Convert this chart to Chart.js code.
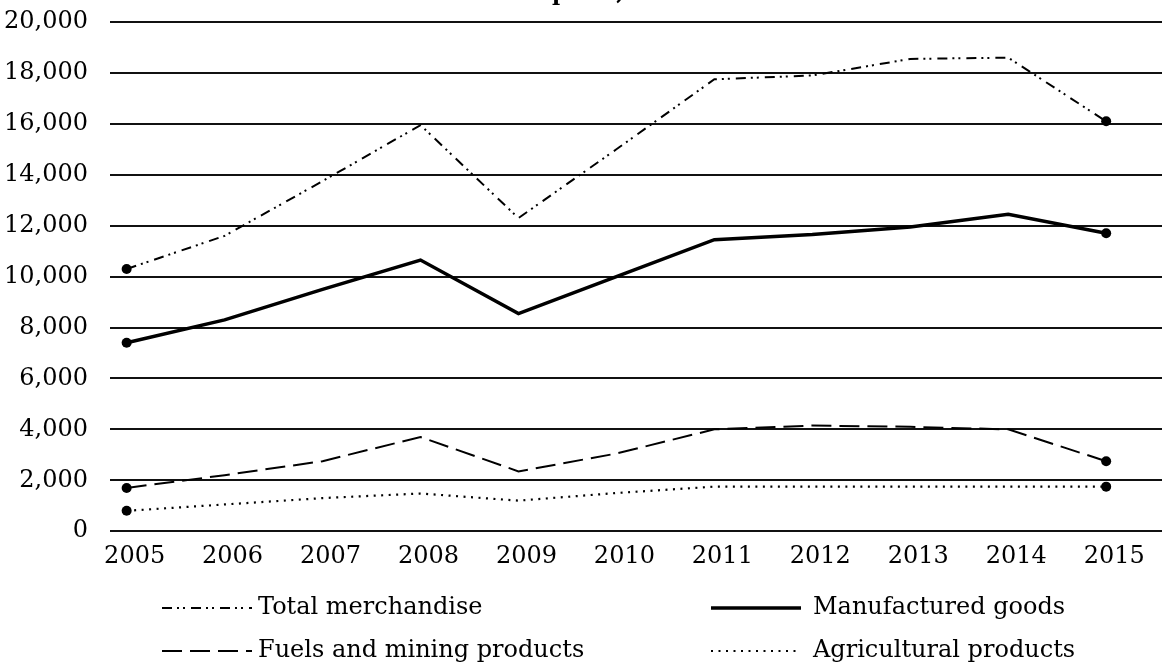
<!DOCTYPE html>
<html>
<head>
<meta charset="utf-8">
<script src="https://cdn.jsdelivr.net/npm/chart.js@4/dist/chart.umd.min.js"></script>
<style>
  html, body { margin: 0; padding: 0; background: #fff; }
  canvas { display: block; }
</style>
</head>
<body>
<canvas id="chart" width="1169" height="670"></canvas>
<script>
// values
const years = [2005, 2006, 2007, 2008, 2009, 2010, 2011, 2012, 2013, 2014, 2015];
const totalMerchandise = [10300, 11600, 13750, 15950, 12300, 15000, 17750, 17900, 18550, 18600, 16100];
const manufacturedGoods = [7400, 8300, 9500, 10650, 8550, 10000, 11450, 11650, 11950, 12450, 11700];
const fuelsAndMining = [1700, 2200, 2750, 3700, 2350, 3050, 4000, 4150, 4100, 4000, 2750];
const agriculturalProducts = [800, 1050, 1300, 1480, 1200, 1500, 1750, 1750, 1750, 1750, 1750];
const seriesNames = ['Total merchandise', 'Manufactured goods', 'Fuels and mining products', 'Agricultural products'];
const titleText = 'World merchandise exports, 2005\u20132015';

const FONT = '"DejaVu Serif", "Liberation Serif", serif';

function toPoints(values) {
    return years.map((yr, i) => ({x: yr, y: values[i]}));
}

// dots only at both ends
function endDots(ctx) {
    return (ctx.dataIndex === 0 || ctx.dataIndex === years.length - 1) ? 5 : 0;
}

function lineSet(label, values, width, dash) {
    return {
        label: label,
        data: toPoints(values),
        borderColor: '#000',
        backgroundColor: '#000',
        borderWidth: width,
        borderDash: dash,
        borderCapStyle: 'butt',
        borderJoinStyle: 'miter',
        fill: false,
        tension: 0,
        pointRadius: endDots,
        pointHoverRadius: endDots,
        pointBorderWidth: 0,
        pointBackgroundColor: '#000'
    };
}

// title is cut off by the top edge (only descenders show), legend drawn under the axis
const titleAndLegend = {
    id: 'titleAndLegend',
    afterDraw(chart) {
        const ctx = chart.ctx;
        ctx.save();
        ctx.fillStyle = '#000';
        ctx.font = 'bold 22px ' + FONT;
        ctx.textAlign = 'left';
        ctx.textBaseline = 'alphabetic';
        const pre = ctx.measureText(titleText.slice(0, titleText.indexOf('p'))).width;
        ctx.fillText(titleText, 552 - pre, 0);

        const slots = [
            {x: 162, y: 608, tx: 258},
            {x: 711, y: 608, tx: 813},
            {x: 162, y: 651, tx: 258},
            {x: 711, y: 651, tx: 813}
        ];
        ctx.font = '24px ' + FONT;
        ctx.textBaseline = 'middle';
        chart.data.datasets.forEach((ds, i) => {
            const s = slots[i];
            ctx.save();
            ctx.strokeStyle = '#000';
            ctx.lineWidth = ds.borderWidth;
            ctx.lineCap = 'butt';
            ctx.setLineDash(ds.borderDash || []);
            ctx.beginPath();
            ctx.moveTo(s.x, s.y);
            ctx.lineTo(s.x + 90, s.y);
            ctx.stroke();
            ctx.restore();
            ctx.fillText(ds.label, s.tx, s.y);
        });
        ctx.restore();
    }
};

new Chart(document.getElementById('chart'), {
    type: 'line',
    data: {
        datasets: [
            lineSet(seriesNames[0], totalMerchandise, 2, [10, 5, 2, 4, 2, 6]),
            lineSet(seriesNames[1], manufacturedGoods, 3.5, []),
            lineSet(seriesNames[2], fuelsAndMining, 2, [20, 8]),
            lineSet(seriesNames[3], agriculturalProducts, 2.2, [2, 5.5])
        ]
    },
    options: {
        responsive: false,
        animation: false,
        layout: {padding: {left: 2, right: 7, top: 22, bottom: 96}},
        plugins: {
            legend: {display: false},
            tooltip: {enabled: false},
            title: {display: false}
        },
        scales: {
            x: {
                type: 'linear',
                min: 2004.83,
                max: 2015.57,
                grid: {display: false},
                border: {display: false},
                ticks: {
                    stepSize: 1,
                    includeBounds: false,
                    autoSkip: false,
                    maxRotation: 0,
                    padding: 3,
                    labelOffset: 8,
                    color: '#000',
                    font: {family: FONT, size: 24},
                    callback: v => String(v)
                },
                // year labels may hang past the plot edges
                afterFit: scale => {
                    scale.paddingLeft = 0;
                    scale.paddingRight = 0;
                }
            },
            y: {
                min: 0,
                max: 20000,
                grid: {color: '#111', lineWidth: 2, drawTicks: false},
                border: {display: false},
                ticks: {
                    stepSize: 2000,
                    padding: 22,
                    color: '#000',
                    font: {family: FONT, size: 24},
                    callback: v => v.toLocaleString('en-US')
                },
                afterFit: scale => {
                    scale.width = 108;
                    scale.paddingTop = 0;
                    scale.paddingBottom = 0;
                }
            }
        }
    },
    plugins: [titleAndLegend]
});
</script>
</body>
</html>
